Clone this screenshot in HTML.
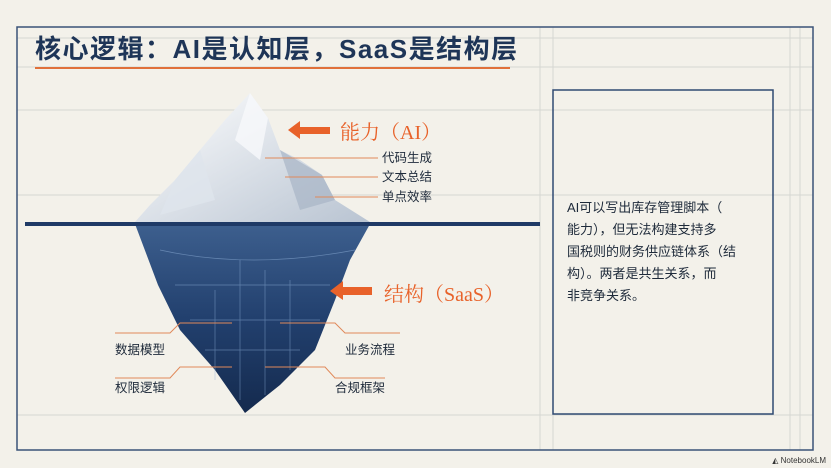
<!DOCTYPE html>
<html><head><meta charset="utf-8"><style>
body{margin:0;width:831px;height:468px;background:#f3f1ea;overflow:hidden;font-family:"Liberation Sans","Noto Sans CJK SC",sans-serif}
</style></head><body>
<svg width="831" height="468" xmlns="http://www.w3.org/2000/svg" style="position:absolute;left:0;top:0">
<defs>
<linearGradient id="ice" x1="0" y1="0" x2="1" y2="1"><stop offset="0" stop-color="#ffffff"/><stop offset="1" stop-color="#b9c4d2"/></linearGradient>
<linearGradient id="deep" x1="0" y1="0" x2="0" y2="1"><stop offset="0" stop-color="#3d5f8e"/><stop offset="0.5" stop-color="#22406e"/><stop offset="1" stop-color="#142a4e"/></linearGradient>
</defs>
<g stroke="#d6d6d2" stroke-width="1" fill="none">
<line x1="17" y1="38" x2="813" y2="38"/>
<line x1="17" y1="110" x2="813" y2="110"/>
<line x1="17" y1="67" x2="813" y2="67"/>
<line x1="17" y1="195" x2="813" y2="195"/>
<line x1="17" y1="415" x2="813" y2="415"/>
<line x1="540" y1="27" x2="540" y2="450"/>
<line x1="553" y1="27" x2="553" y2="450"/>
<line x1="790" y1="27" x2="790" y2="450"/>
<line x1="800" y1="27" x2="800" y2="450"/>
</g>
<rect x="17" y="27" width="796" height="423" fill="none" stroke="#3a5378" stroke-width="1.5"/>
<text x="35" y="58" font-size="26" font-weight="bold" fill="#1e3557" letter-spacing="1.5">核心逻辑：AI是认知层，SaaS是结构层</text>
<line x1="35" y1="68" x2="510" y2="68" stroke="#e0703a" stroke-width="2"/>
<polygon points="250,93 268,118 280,150 300,160 322,175 335,200 370,222 135,222 150,205 175,180 200,150 225,120" fill="url(#ice)"/>
<polygon points="250,93 268,118 260,160 235,140" fill="#f7f9fb" opacity="0.8"/>
<polygon points="280,150 322,175 335,200 300,210" fill="#a8b5c6" opacity="0.7"/>
<polygon points="175,180 200,150 215,200 160,215" fill="#dfe5ec" opacity="0.8"/>
<polygon points="135,224 370,224 350,260 335,300 315,350 280,385 245,413 215,370 180,330 158,285" fill="url(#deep)"/>
<g stroke="#8fb0d8" stroke-width="0.7" opacity="0.55" fill="none">
<line x1="215" y1="290" x2="215" y2="380"/><line x1="240" y1="260" x2="240" y2="400"/><line x1="265" y1="270" x2="265" y2="395"/><line x1="290" y1="280" x2="290" y2="370"/>
<line x1="175" y1="285" x2="330" y2="285"/><line x1="190" y1="320" x2="320" y2="320"/><line x1="205" y1="350" x2="300" y2="350"/>
<path d="M160 250 Q250 270 355 250"/>
</g>
<line x1="25" y1="224" x2="540" y2="224" stroke="#1f3a66" stroke-width="4"/>
<polygon points="288,130 300,121 300,127 330,127 330,134 300,134 300,139" fill="#e8622a"/>
<text x="340" y="139" font-size="20" fill="#e8622a" font-family="Liberation Serif,'Noto Serif CJK SC',serif">能力（AI）</text>
<polygon points="330,291 343,281 343,287 372,287 372,295 343,295 343,300" fill="#e8622a"/>
<text x="384" y="301" font-size="20" fill="#e8622a" font-family="Liberation Serif,'Noto Serif CJK SC',serif">结构（SaaS）</text>
<g stroke="#e0895a" stroke-width="1" fill="none">
<line x1="265" y1="158" x2="378" y2="158"/>
<line x1="285" y1="177" x2="378" y2="177"/>
<line x1="315" y1="197" x2="378" y2="197"/>
<path d="M115 333 H170 L180 323 H232"/>
<path d="M115 378 H170 L180 367 H232"/>
<path d="M400 333 H345 L335 323 H280"/>
<path d="M385 378 H335 L325 367 H265"/>
</g>
<g font-size="12.5" fill="#1e2a3a">
<text x="382" y="162">代码生成</text>
<text x="382" y="181">文本总结</text>
<text x="382" y="201">单点效率</text>
<text x="115" y="354">数据模型</text>
<text x="115" y="392">权限逻辑</text>
<text x="345" y="354">业务流程</text>
<text x="335" y="392">合规框架</text>
</g>
<rect x="553" y="90" width="220" height="324" fill="none" stroke="#2f4a73" stroke-width="1.5"/>
<g font-size="13" fill="#1e2a3a">
<text x="567" y="212">AI可以写出库存管理脚本（</text>
<text x="567" y="234">能力），但无法构建支持多</text>
<text x="567" y="256">国税则的财务供应链体系（结</text>
<text x="567" y="278">构）。两者是共生关系，而</text>
<text x="567" y="300">非竞争关系。</text>
</g>
<text x="826" y="463" font-size="8" fill="#333" text-anchor="end">◭ NotebookLM</text>
</svg>
</body></html>
